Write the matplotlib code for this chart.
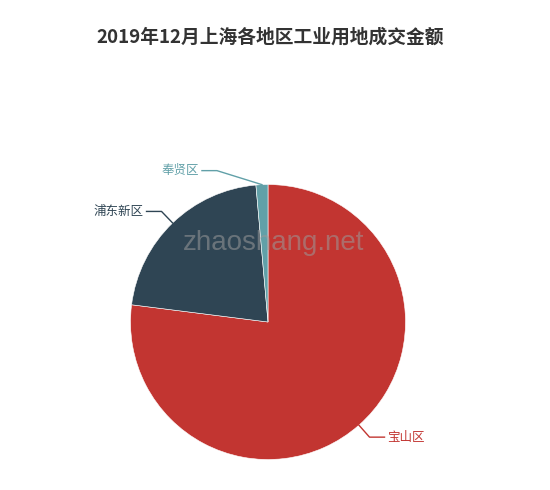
import numpy as np
import matplotlib.pyplot as plt

plt.rcParams['font.family'] = ['Noto Sans CJK SC', 'DejaVu Sans']

regions = ['宝山区', '浦东新区', '奉贤区']
amounts = [77.0, 21.6, 1.4]
colors = ['#c23531', '#2f4554', '#61a0a8']

W, H = 550, 490
fig = plt.figure(figsize=(W / 100, H / 100), dpi=100)
cx, cy, r = 268, 322, 137.5
ax = fig.add_axes([(cx - r) / W, (H - cy - r) / H, 2 * r / W, 2 * r / H])

wedges, _ = ax.pie(amounts, colors=colors, startangle=90, counterclock=False,
                   radius=1, wedgeprops=dict(linewidth=0.4, edgecolor='white'))
ax.set_xlim(-1, 1)
ax.set_ylim(-1, 1)
ax.axis('off')

# label-line elbows pushed apart the way the original chart did (pixel offsets)
elbow_px = {'奉贤区': (-45, 14)}
hor = 15 / r
for w, name, c in zip(wedges, regions, colors):
    ang = np.deg2rad((w.theta1 + w.theta2) / 2)
    x0, y0 = np.cos(ang), np.sin(ang)
    if name in elbow_px:
        dx, dy = elbow_px[name]
        x1, y1 = x0 + dx / r, y0 + dy / r
    else:
        x1, y1 = x0 * (1 + 16 / r), y0 * (1 + 16 / r)
    side = 1 if x0 >= 0 else -1
    x2 = x1 + side * hor
    ax.plot([x0, x1, x2], [y0, y1, y1], color=c, lw=1, clip_on=False)
    ax.text(x2 + side * 3 / r, y1, name, color=c, fontsize=9,
            ha='left' if side > 0 else 'right', va='center', clip_on=False)

fig.text(270 / W, 1 - 37 / H, '2019年12月上海各地区工业用地成交金额',
         ha='center', va='center', fontsize=13.5, fontweight='bold', color='#333333')
fig.text(274 / W, 1 - 243 / H, 'zhaoshang.net', ha='center', va='center',
         fontsize=20, color='#9a9a9a', alpha=0.55, family='Liberation Sans')

fig.savefig('out.png', dpi=100)
